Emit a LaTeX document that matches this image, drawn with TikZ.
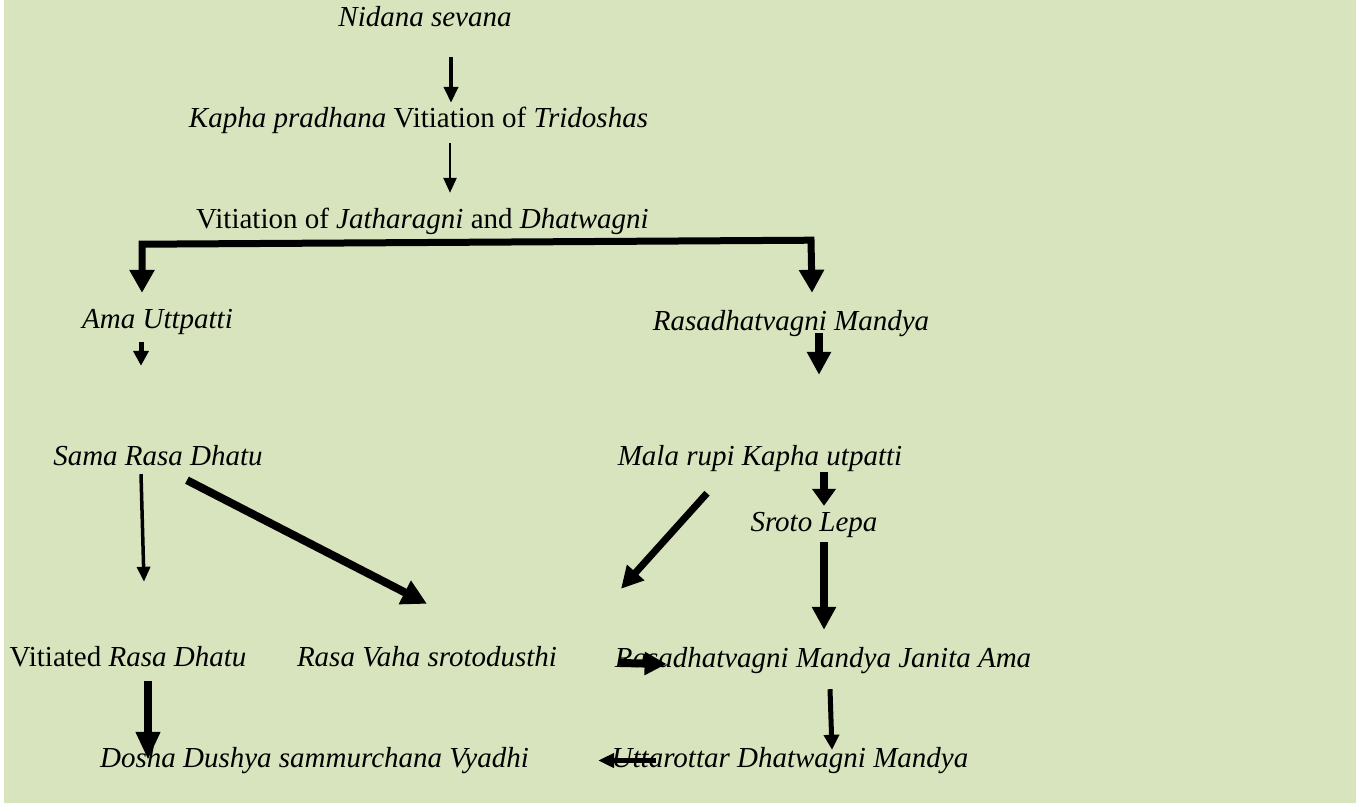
\documentclass[tikz,border=0pt]{standalone}
\usepackage{fontspec}
\setmainfont{Liberation Serif}
\usepackage{tikz}
\usetikzlibrary{arrows.meta,positioning}
\definecolor{sheetgreen}{RGB}{216,228,189}
\tikzset
{
    stage/.style     = {inner sep=0pt, anchor=base, text height=20pt, text depth=7pt, font=\fontsize{29}{35}\selectfont},
    fatarrow/.style  = {-{Triangle[width=23pt,length=23pt]}, line width=8pt},
    forkarrow/.style = {{Triangle[width=24pt,length=23pt]}-{Triangle[width=24pt,length=23pt]}, line width=7pt},
    midarrow/.style  = {-{Triangle[width=15pt,length=15pt]}, line width=5pt},
    slimarrow/.style = {-{Triangle[width=14pt,length=16pt]}, line width=4pt},
    thinarrow/.style = {-{Triangle[width=13pt,length=15pt]}, line width=2.5pt}
}

\begin{document}
\begin{tikzpicture}[x=1pt, y=-1pt]
    \useasboundingbox (0,0) rectangle (1356,804);
    \fill[white] (0,0) rectangle (1356,804);
    \fill[sheetgreen] (4,0) rectangle (1356,803);

    % stages
    \node [stage] (nidana)   at (425,26)    {\textit{Nidana sevana}};
    \node [stage] (kapha)    at (418.5,127) {\textit{Kapha pradhana} Vitiation of \textit{Tridoshas}};
    \node [stage] (agni)     at (422.5,228) {Vitiation of \textit{Jatharagni} and \textit{Dhatwagni}};
    \node [stage] (ama)      at (157.5,328) {\textit{Ama Uttpatti}};
    \node [stage] (rasagni)  at (791,330)   {\textit{Rasadhatvagni Mandya}};
    \node [stage] (sama)     at (158,465)   {\textit{Sama Rasa Dhatu}};
    \node [stage] (mala)     at (760,465)   {\textit{Mala rupi Kapha utpatti}};
    \node [stage] (sroto)    at (814,531)   {\textit{Sroto Lepa}};
    \node [stage] (vitiated) at (128,666)   {Vitiated \textit{Rasa Dhatu}};
    \node [stage] (vaha)     at (427,666)   {\textit{Rasa Vaha srotodusthi}};
    \node [stage] (janita)   at (823,667)   {\textit{Rasadhatvagni Mandya Janita Ama}};
    \node [stage] (dosha)    at (314.5,767) {\textit{Dosha Dushya sammurchana Vyadhi}};
    \node [stage] (uttar)    at (790,767)   {\textit{Uttarottar Dhatwagni Mandya}};

    \coordinate (fork-l) at ([xshift=-280.5pt,yshift=-9pt]agni.south);
    \coordinate (fork-r) at ([xshift=388.5pt,yshift=-5pt]agni.south);
    \coordinate (mala-tip) at ([xshift=-202pt,yshift=58pt]janita.north);

    % connectors
    \draw [slimarrow] ([xshift=26pt,yshift=-24pt]nidana.south) -- ([xshift=32.5pt,yshift=4pt]kapha.north);
    \draw [thinarrow] ([xshift=31.5pt,yshift=-9pt]kapha.south) -- ([xshift=27.5pt,yshift=15pt]agni.north);
    \draw [forkarrow] ([xshift=-15.5pt,yshift=15pt]ama.north) -- (fork-l) -- (fork-r) -- ([xshift=21pt,yshift=17pt]rasagni.north);
    \draw [midarrow] ([xshift=-16.5pt,yshift=-7pt]ama.south) -- ([xshift=-17pt,yshift=79pt]sama.north);
    \draw [fatarrow] ([xshift=28pt,yshift=4pt]rasagni.south) -- ([xshift=59pt,yshift=70pt]mala.north);
    \draw [thinarrow, line width=3.5pt] ([xshift=-17pt,yshift=-2pt]sama.south) -- ([xshift=16pt,yshift=64pt]vitiated.north);
    \draw [fatarrow, -{Triangle[width=25pt,length=25pt]}] ([xshift=29pt,yshift=-8pt]sama.south) -- ([yshift=42pt]vaha.north);
    \draw [fatarrow, line width=7pt, -{Triangle[width=22pt,length=22pt]}] ([xshift=-53pt,yshift=-21pt]mala.south) -- (mala-tip);
    \draw [fatarrow, -{Triangle[width=23pt,length=17pt]}] ([xshift=64pt]mala.south) -- ([xshift=10pt,yshift=5pt]sroto.north);
    \draw [fatarrow] ([xshift=10pt,yshift=-4pt]sroto.south) -- ([xshift=1pt,yshift=17pt]janita.north);
    \draw [fatarrow, -{Triangle[width=22pt,length=22pt]}] ([xshift=63pt,yshift=-3.5pt]vaha.east) -- ([xshift=52pt,yshift=-3.5pt]janita.west);
    \draw [fatarrow, -{Triangle[width=23pt,length=28pt]}] ([xshift=20pt,yshift=-8pt]vitiated.south) -- ([xshift=-166.5pt,yshift=-13pt]dosha.north);
    \draw [midarrow] ([xshift=7pt,yshift=-15pt]janita.south) -- ([xshift=42pt,yshift=-3pt]uttar.north);
    \draw [midarrow, -{Triangle[width=14pt,length=16pt]}] ([xshift=44pt]uttar.west) -- ([xshift=69pt]dosha.east);
\end{tikzpicture}
\end{document}
